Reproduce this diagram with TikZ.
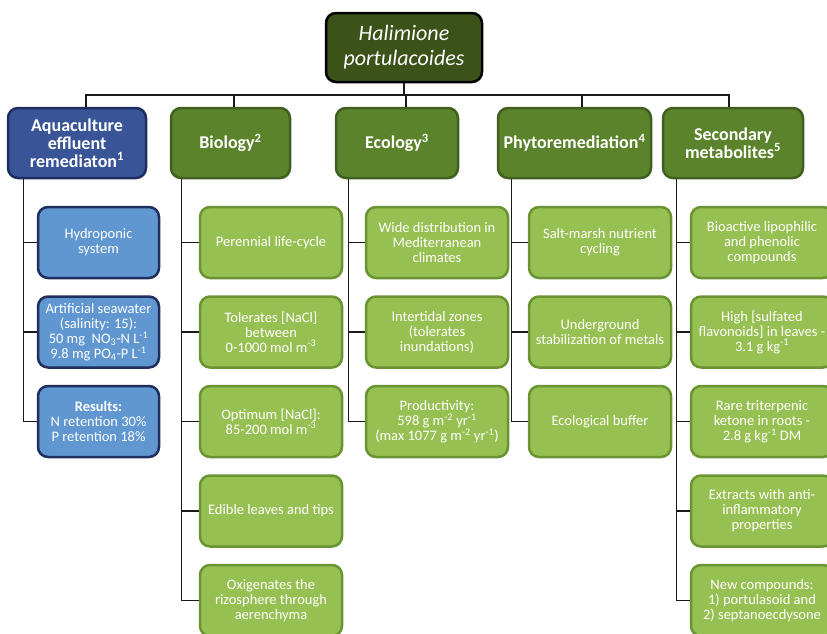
\documentclass[tikz,border=0pt]{standalone}
\usepackage{fontspec}
\setmainfont{Carlito}
\usepackage{tikz}
\usetikzlibrary{positioning}
\definecolor{rootgreen}{HTML}{3B5219}
\definecolor{headgreen}{HTML}{5B832C}
\definecolor{headline}{HTML}{41601F}
\definecolor{leafgreen}{HTML}{97C052}
\definecolor{leafline}{HTML}{6A9332}
\definecolor{headblue}{HTML}{3A5597}
\definecolor{blueline}{HTML}{1F2D5F}
\definecolor{leafblue}{HTML}{6097D1}

\begin{document}
\begin{tikzpicture}[
            x = 1pt, y = -1pt, % picture in points, y downwards
            node distance = 89.5pt, % distance between leaf boxes
            line width = 1.2pt % connector style
        ]

        \tikzstyle{box}=[
            rounded corners = 10pt,
            align = center,
            text = white,
            inner sep = 2pt,
            line width = 2.5pt
        ]
        \tikzstyle{root}=[box, draw = black, fill = rootgreen, minimum width = 156pt, minimum height = 69pt, font = \itshape\fontsize{22}{25}\selectfont]
        \tikzstyle{head}=[box, draw = headline, fill = headgreen, minimum height = 70pt, font = \bfseries\fontsize{18}{18}\selectfont]
        \tikzstyle{aquahead}=[head, draw = blueline, fill = headblue]
        \tikzstyle{leaf}=[box, draw = leafline, fill = leafgreen, minimum width = 142pt, minimum height = 71pt, font = \fontsize{14.5}{15}\selectfont]
        \tikzstyle{aqualeaf}=[leaf, draw = blueline, fill = leafblue, minimum width = 121pt]
        \tikzstyle{link}=[draw = black!90, line width = 1.2pt]

        \useasboundingbox (0,0) rectangle (827,633);

        % species
        \node[root] (H) at (404,47.5) {Halimione\\portulacoides};
        \coordinate (bus) at (404,95);

        % topics
        \node[aquahead, minimum width = 138pt] (A) at (77,143) {Aquaculture\\effluent\\remediaton\textsuperscript{1}};
        \node[head, minimum width = 119pt] (B) at (230.5,143) {Biology\textsuperscript{2}};
        \node[head, minimum width = 122pt] (E) at (397,143) {Ecology\textsuperscript{3}};
        \node[head, minimum width = 153pt] (P) at (574.5,143) {Phytoremediation\textsuperscript{4}};
        \node[head, minimum width = 140pt] (S) at (733,143) {Secondary\\metabolites\textsuperscript{5}};

        \draw[link] (H.south) -- (bus);
        \draw[link] (bus) -| ([xshift = 9pt]A.north);
        \draw[link] (bus) -| ([xshift = 3.5pt]B.north);
        \draw[link] (bus) -| ([xshift = 9pt]E.north);
        \draw[link] (bus) -| ([xshift = 7.5pt]P.north);
        \draw[link] (bus) -| ([xshift = -4pt]S.north);

        % aquaculture
        \node[aqualeaf] (A1) [node distance = 99.5pt, below of = A, xshift = 21.5pt] {Hydroponic\\system};
        \node[aqualeaf] (A2) [below of = A1] {Artificial seawater\\(salinity: 15):\\50 mg~~NO\textsubscript{3}-N L\textsuperscript{-1}\\9.8 mg PO\textsubscript{4}-P L\textsuperscript{-1}};
        \node[aqualeaf] (A3) [below of = A2] {\textbf{Results:}\\N retention 30\%\\P retention 18\%};

        \draw[link] ([xshift = 17pt]A.south west) |- (A1.west);
        \draw[link] ([xshift = 17pt]A.south west) |- (A2.west);
        \draw[link] ([xshift = 17pt]A.south west) |- (A3.west);

        % biology
        \node[leaf] (B1) [node distance = 99.5pt, below of = B, xshift = 40.5pt] {Perennial life-cycle};
        \node[leaf] (B2) [below of = B1] {Tolerates [NaCl]\\between\\0-1000 mol m\textsuperscript{-3}};
        \node[leaf] (B3) [below of = B2] {Optimum [NaCl]:\\85-200 mol m\textsuperscript{-3}};
        \node[leaf] (B4) [below of = B3] {Edible leaves and tips};
        \node[leaf] (B5) [below of = B4] {Oxigenates the\\rizosphere through\\aerenchyma};

        \draw[link] ([xshift = 12pt]B.south west) |- (B1.west);
        \draw[link] ([xshift = 12pt]B.south west) |- (B2.west);
        \draw[link] ([xshift = 12pt]B.south west) |- (B3.west);
        \draw[link] ([xshift = 12pt]B.south west) |- (B4.west);
        \draw[link] ([xshift = 12pt]B.south west) |- (B5.west);

        % ecology
        \node[leaf] (E1) [node distance = 99.5pt, below of = E, xshift = 40pt] {Wide distribution in\\Mediterranean\\climates};
        \node[leaf] (E2) [below of = E1] {Intertidal zones\\(tolerates\\inundations)};
        \node[leaf] (E3) [below of = E2] {Productivity:\\598 g m\textsuperscript{-2} yr\textsuperscript{-1}\\(max 1077 g m\textsuperscript{-2} yr\textsuperscript{-1})};

        \draw[link] ([xshift = 14pt]E.south west) |- (E1.west);
        \draw[link] ([xshift = 14pt]E.south west) |- (E2.west);
        \draw[link] ([xshift = 14pt]E.south west) |- (E3.west);

        % phytoremediation
        \node[leaf] (P1) [node distance = 99.5pt, below of = P, xshift = 25.5pt] {Salt-marsh nutrient\\cycling};
        \node[leaf] (P2) [below of = P1] {Underground\\stabilization of metals};
        \node[leaf] (P3) [below of = P2] {Ecological buffer};

        \draw[link] ([xshift = 15pt]P.south west) |- (P1.west);
        \draw[link] ([xshift = 15pt]P.south west) |- (P2.west);
        \draw[link] ([xshift = 15pt]P.south west) |- (P3.west);

        % secondary metabolites
        \node[leaf] (S1) [node distance = 99.5pt, below of = S, xshift = 29pt] {Bioactive lipophilic\\and phenolic\\compounds};
        \node[leaf] (S2) [below of = S1] {High [sulfated\\flavonoids] in leaves -\\3.1 g kg\textsuperscript{-1}};
        \node[leaf] (S3) [below of = S2] {Rare triterpenic\\ketone in roots -\\2.8 g kg\textsuperscript{-1} DM};
        \node[leaf] (S4) [below of = S3] {Extracts with anti-\\inflammatory\\properties};
        \node[leaf] (S5) [below of = S4] {New compounds:\\1) portulasoid and\\2) septanoecdysone};

        \draw[link] ([xshift = 15pt]S.south west) |- (S1.west);
        \draw[link] ([xshift = 15pt]S.south west) |- (S2.west);
        \draw[link] ([xshift = 15pt]S.south west) |- (S3.west);
        \draw[link] ([xshift = 15pt]S.south west) |- (S4.west);
        \draw[link] ([xshift = 15pt]S.south west) |- (S5.west);

\end{tikzpicture}
\end{document}
